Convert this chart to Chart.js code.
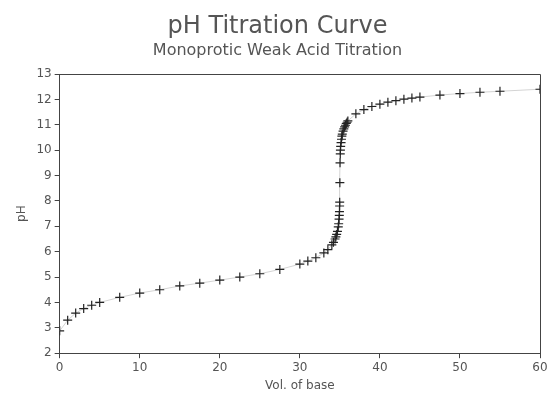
<!DOCTYPE html>
<html>
<head>
<meta charset="utf-8">
<script src="https://cdn.jsdelivr.net/npm/chart.js@4.4.1/dist/chart.umd.min.js"></script>
<style>
  html, body { margin: 0; padding: 0; background: #fff; }
  #wrap { width: 550px; height: 396px; }
</style>
</head>
<body>
<div id="wrap"><canvas id="titrationChart" width="550" height="396"></canvas></div>
<script>
// volume of base added (mL) and measured pH
const volumes = [0, 1, 2, 3, 4, 5, 7.5, 10, 12.5, 15, 17.5, 20, 22.5, 25, 27.5, 30, 31, 32, 33, 33.5,
    34, 34.2, 34.4, 34.5, 34.6, 34.7, 34.8, 34.85, 34.9, 34.93, 34.95, 34.97, 34.98,
    35, 35.02, 35.05, 35.07, 35.1, 35.15, 35.2, 35.25, 35.3, 35.4, 35.5, 35.6, 35.7, 35.8, 35.9,
    36, 37, 38, 39, 40, 41, 42, 43, 44, 45, 47.5, 50, 52.5, 55, 60];
const phValues = [2.88, 3.3, 3.58, 3.76, 3.89, 4.0, 4.2, 4.37, 4.5, 4.65, 4.76, 4.88, 5.0, 5.13, 5.3, 5.51, 5.63, 5.76, 5.95, 6.08,
    6.27, 6.37, 6.5, 6.58, 6.68, 6.8, 6.98, 7.1, 7.28, 7.43, 7.58, 7.8, 7.95,
    8.72, 9.5, 9.85, 10.0, 10.15, 10.3, 10.43, 10.55, 10.63, 10.75, 10.84, 10.92, 10.98, 11.05, 11.1,
    11.15, 11.43, 11.6, 11.72, 11.81, 11.89, 11.95, 12.01, 12.05, 12.09, 12.17, 12.23, 12.28, 12.32, 12.4];
const xTicks = [0, 10, 20, 30, 40, 50, 60];
const yTicks = [2, 3, 4, 5, 6, 7, 8, 9, 10, 11, 12, 13];

function createTitrationChart() {
    const points = volumes.map((v, i) => ({ x: v, y: phValues[i] }));

    // box around the plot area (top and right sides)
    const frameBox = {
        id: 'frameBox',
        afterDraw(chart) {
            const { ctx, chartArea: { left, right, top, bottom } } = chart
            ctx.save()
            ctx.strokeStyle = '#444'
            ctx.lineWidth = 1
            ctx.beginPath()
            ctx.moveTo(left, top + 0.5)
            ctx.lineTo(right + 0.5, top + 0.5)
            ctx.lineTo(right + 0.5, bottom)
            ctx.stroke()
            ctx.restore()
        }
    }

    const tickFont = { family: "DejaVu Sans", size: 12 };

    const config = {
        type: "scatter",
        data: {
            datasets: [
                {
                    label: "pH",
                    data: points,
                    showLine: true,
                    borderColor: "#d4d4d4",
                    borderWidth: 1,
                    tension: 0,
                    pointStyle: "cross",
                    pointRadius: 4.5,
                    pointBorderColor: "#222",
                    pointBorderWidth: 1.2,
                    pointBackgroundColor: "#222",
                },
            ],
        },
        options: {
            responsive: false,
            animation: false,
            layout: { padding: { left: 15, right: 10, top: 4, bottom: 3 } },
            plugins: {
                legend: { display: false },
                tooltip: { enabled: false },
                title: {
                    display: true,
                    text: "pH Titration Curve",
                    color: "#555",
                    font: { family: "DejaVu Sans", size: 24, weight: "normal" },
                    padding: { top: 8, bottom: 0 },
                },
                subtitle: {
                    display: true,
                    text: "Monoprotic Weak Acid Titration",
                    color: "#555",
                    font: { family: "DejaVu Sans", size: 16, weight: "normal" },
                    padding: { top: 0, bottom: 14 },
                },
            },
            scales: {
                x: {
                    type: "linear",
                    min: 0,
                    max: 60,
                    afterBuildTicks: (axis) => { axis.ticks = xTicks.map(v => ({ value: v })) },
                    grid: { drawOnChartArea: false, drawTicks: true, tickLength: 5, color: "#444" },
                    border: { display: true, color: "#444", width: 1 },
                    ticks: { color: "#555", font: tickFont, padding: 2, maxRotation: 0 },
                    title: {
                        display: true,
                        text: "Vol. of base",
                        color: "#555",
                        font: { family: "DejaVu Sans", size: 12 },
                        padding: { top: 2, bottom: 0 },
                    },
                },
                y: {
                    type: "linear",
                    min: 2,
                    max: 13,
                    afterBuildTicks: (axis) => { axis.ticks = yTicks.map(v => ({ value: v })) },
                    grid: { drawOnChartArea: false, drawTicks: true, tickLength: 5, color: "#444" },
                    border: { display: true, color: "#444", width: 1 },
                    ticks: { color: "#555", font: tickFont, padding: 3 },
                    title: {
                        display: true,
                        text: "pH",
                        color: "#555",
                        font: { family: "DejaVu Sans", size: 12 },
                        padding: { top: 0, bottom: 4 },
                    },
                },
            },
        },
        plugins: [frameBox]
    };

    new Chart(document.getElementById("titrationChart"), config);
}
createTitrationChart();
</script>
</body>
</html>
